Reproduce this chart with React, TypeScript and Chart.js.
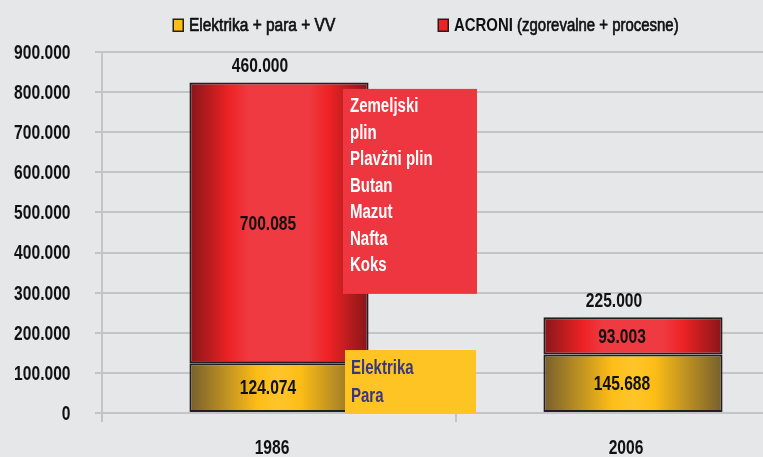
import React, { useEffect, useRef } from "react";
import { Chart, registerables } from "chart.js";

Chart.register(...registerables);

const categories = ["1986", "2006"];
const elektrika = [124074, 145688];
const acroni = [700085, 93003];
const totalLabels = ["460.000", "225.000"];
const legendLabels = ["Elektrika + para + VV", "ACRONI (zgorevalne + procesne)"];
const acroniSources = ["Zemeljski", "plin", "Plavžni plin", "Butan", "Mazut", "Nafta", "Koks"];
const elektrikaSources = ["Elektrika", "Para"];
const yMin = 0;
const yMax = 900000;
const yStep = 100000;

const FAMILY = "'Liberation Sans', Arial, sans-serif";
const BAR_PCT = 0.506;
const RED_STOPS: [number, string][] = [
  [0, "#861619"],
  [0.22, "#ed2224"],
  [0.33, "#ef3a41"],
  [0.67, "#ef3a41"],
  [0.78, "#ed2224"],
  [1, "#861619"],
];
const GOLD_STOPS: [number, string][] = [
  [0, "#765f2e"],
  [0.38, "#fdbd16"],
  [0.5, "#fec52a"],
  [0.62, "#fdbd16"],
  [1, "#765f2e"],
];

const fmt = (v: number) => String(Math.round(v)).replace(/\B(?=(\d{3})+(?!\d))/g, ".");

function makeGrad(ctx: any, stops: [number, string][]) {
  const chart = ctx.chart;
  const xs = chart.scales && chart.scales.x;
  if (!xs || !chart.chartArea || ctx.dataIndex === undefined) return stops[2][1];
  const c = xs.getPixelForValue(ctx.dataIndex);
  const half = ((xs.width / categories.length) * BAR_PCT) / 2;
  const g = chart.ctx.createLinearGradient(c - half, 0, c + half, 0);
  stops.forEach(([o, col]) => g.addColorStop(o, col));
  return g;
}

// condensed text: Helvetica-Condensed look by narrowing a regular face
function txt(
  ctx: CanvasRenderingContext2D,
  s: string,
  x: number,
  y: number,
  align: CanvasTextAlign,
  color: string,
  size = 19.5,
  sx = 0.8,
  weight = "bold",
  stroke = 0
): number {
  ctx.save();
  ctx.font = `${weight} ${size}px ${FAMILY}`;
  ctx.fillStyle = color;
  ctx.textAlign = align;
  ctx.textBaseline = "middle";
  const w = ctx.measureText(s).width * sx;
  ctx.translate(x, y);
  ctx.scale(sx, 1);
  ctx.fillText(s, 0, 0);
  if (stroke > 0) {
    ctx.strokeStyle = color;
    ctx.lineWidth = stroke;
    ctx.lineJoin = "round";
    ctx.strokeText(s, 0, 0);
  }
  ctx.restore();
  return w;
}

const overlayPlugin = {
  id: "overlay",
  afterDraw(chart: any) {
    const { ctx, scales } = chart;
    const xs = scales.x;
    const ys = scales.y;
    ctx.save();
    // axis tick labels
    ys.ticks.forEach((t: any) => {
      txt(ctx, fmt(t.value), ys.right - 31.5, ys.getPixelForValue(t.value) + 1.5, "right", "#111111");
    });
    categories.forEach((c, i) => {
      txt(ctx, c, xs.getPixelForValue(i) - 7, xs.top + 36, "center", "#111111");
    });

    // annotation boxes
    const x0 = xs.getPixelForValue(0);
    const redL = x0 + 64;
    const redR = x0 + 198;
    const redT = ys.getPixelForValue(808000);
    const redB = ys.getPixelForValue(297000);
    ctx.fillStyle = "#ee3640";
    ctx.fillRect(redL, redT, redR - redL, redB - redT);
    const goldL = x0 + 66;
    const goldR = x0 + 197;
    const goldT = ys.getPixelForValue(157000);
    const goldB = ys.getPixelForValue(0);
    ctx.fillStyle = "#fdc423";
    ctx.fillRect(goldL, goldT, goldR - goldL, goldB - goldT);

    acroniSources.forEach((s, i) => txt(ctx, s, redL + 7, redT + 18 + i * 26.5, "left", "#ffffff", 19.5, 0.77));
    elektrikaSources.forEach((s, i) => txt(ctx, s, goldL + 6, goldT + 19 + i * 27.5, "left", "#3b3680", 19.5, 0.77));

    // value labels
    [0, 1].forEach((di) => {
      const meta = chart.getDatasetMeta(di);
      meta.data.forEach((el: any, i: number) => {
        const v = chart.data.datasets[di].data[i];
        const cy = (el.y + el.base) / 2 + 1.5;
        txt(ctx, fmt(v), el.x - 11, cy, "center", "#111111");
      });
    });
    // totals
    const topMeta = chart.getDatasetMeta(1);
    topMeta.data.forEach((el: any, i: number) => {
      txt(ctx, totalLabels[i], el.x - 19, el.y - 16, "center", "#111111");
    });

    // legend
    const items = [
      { x: 173, col: "#fdbd16", text: legendLabels[0], boldFirst: false },
      { x: 438, col: "#ed2224", text: legendLabels[1], boldFirst: true },
    ];
    items.forEach((it) => {
      ctx.fillStyle = it.col;
      ctx.fillRect(it.x, 19, 10, 12);
      ctx.strokeStyle = "#231f20";
      ctx.lineWidth = 1.5;
      ctx.strokeRect(it.x + 0.25, 19.25, 10, 12);
      const tx = it.x + 16;
      if (it.boldFirst) {
        const sp = it.text.indexOf(" ");
        const w = txt(ctx, it.text.slice(0, sp), tx, 26.5, "left", "#111111", 18, 0.83, "bold");
        txt(ctx, it.text.slice(sp), tx + w, 26.5, "left", "#111111", 18, 0.83, "normal", 0.7);
      } else {
        txt(ctx, it.text, tx, 26.5, "left", "#111111", 18, 0.86, "normal", 0.7);
      }
    });
    ctx.restore();
  },
};

export default function App() {
  const ref = useRef<HTMLCanvasElement>(null);
  useEffect(() => {
    if (!ref.current) return;
    const chart = new Chart(ref.current, {
      type: "bar",
      data: {
        labels: categories,
        datasets: [
          {
            label: legendLabels[0],
            data: elektrika,
            backgroundColor: (c: any) => makeGrad(c, GOLD_STOPS),
            borderColor: "#231f20",
            borderWidth: 2,
            borderSkipped: false,
          },
          {
            label: legendLabels[1],
            data: acroni,
            backgroundColor: (c: any) => makeGrad(c, RED_STOPS),
            borderColor: "#231f20",
            borderWidth: 2,
            borderSkipped: false,
          },
        ],
      },
      options: {
        responsive: false,
        animation: false,
        devicePixelRatio: 1,
        layout: { padding: { top: 52, right: 2, left: 0, bottom: 0 } },
        datasets: { bar: { barPercentage: BAR_PCT, categoryPercentage: 1 } },
        plugins: { legend: { display: false }, tooltip: { enabled: false } },
        scales: {
          x: {
            stacked: true,
            offset: true,
            grid: { drawOnChartArea: false, drawTicks: true, tickLength: 9, color: "#c3c4c6", lineWidth: 2, offset: true },
            border: { display: true, color: "#c3c4c6", width: 2 },
            ticks: { display: false },
            afterFit: (s: any) => {
              s.height = 44;
            },
          },
          y: {
            stacked: true,
            min: yMin,
            max: yMax,
            grid: { color: "#c3c4c6", lineWidth: 2, tickLength: 7, drawTicks: true },
            border: { display: true, color: "#c3c4c6", width: 2 },
            ticks: { display: false, stepSize: yStep },
            afterFit: (s: any) => {
              s.width = 102;
            },
          },
        },
      },
      plugins: [overlayPlugin],
    });
    return () => chart.destroy();
  }, []);
  return (
    <div
      style={{
        position: "absolute",
        left: 0,
        top: 0,
        width: 763,
        height: 457,
        overflow: "hidden",
        background: "#e6e7e9",
      }}
    >
      <canvas ref={ref} width={812} height={457} style={{ display: "block", width: 812, height: 457 }} />
    </div>
  );
}
